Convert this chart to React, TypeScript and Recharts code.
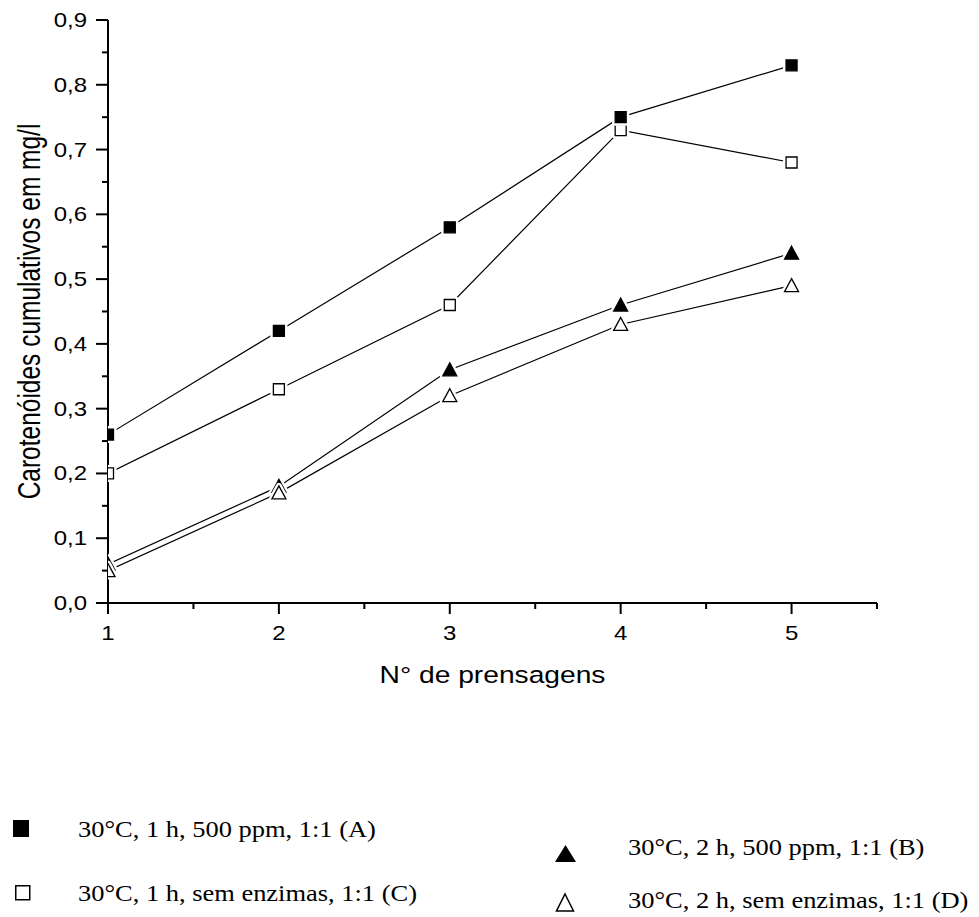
import React from "react";
import { Line, LineChart, XAxis, YAxis } from "recharts";

// N° de prensagens (x) and cumulative carotenoids in mg/l for each condition
const passes = [1, 2, 3, 4, 5];
const seriesA = [0.26, 0.42, 0.58, 0.75, 0.83]; // 30°C, 1 h, 500 ppm
const seriesB = [0.06, 0.18, 0.36, 0.46, 0.54]; // 30°C, 2 h, 500 ppm
const seriesC = [0.2, 0.33, 0.46, 0.73, 0.68]; // 30°C, 1 h, sem enzimas
const seriesD = [0.05, 0.17, 0.32, 0.43, 0.49]; // 30°C, 2 h, sem enzimas

const xTicks = [1, 1.5, 2, 2.5, 3, 3.5, 4, 4.5, 5, 5.5];
const yTicks = [0, 0.05, 0.1, 0.15, 0.2, 0.25, 0.3, 0.35, 0.4, 0.45, 0.5, 0.55, 0.6, 0.65, 0.7, 0.75, 0.8, 0.85, 0.9];

const legendA = "30°C, 1 h, 500 ppm, 1:1 (A)";
const legendB = "30°C, 2 h, 500 ppm, 1:1 (B)";
const legendC = "30°C, 1 h, sem enzimas, 1:1 (C)";
const legendD = "30°C, 2 h, sem enzimas, 1:1 (D)";

const chartData = passes.map((x, i) => ({
  x,
  a: seriesA[i],
  b: seriesB[i],
  c: seriesC[i],
  d: seriesD[i],
}));

const SANS = "'Liberation Sans', Arial, sans-serif";
const SERIF = "'Liberation Serif', 'Times New Roman', serif";

const isMajor = (v: number, step: number) => Math.abs(v / step - Math.round(v / step)) < 1e-6;

const XTick = (props: any) => {
  const { x, y, payload } = props;
  const major = isMajor(payload.value, 1);
  return (
    <g>
      <line x1={x} y1={y} x2={x} y2={y + (major ? 11 : 6)} stroke="#000" strokeWidth={2} />
      {major && (
        <text
          transform={`translate(${x},${y + 37}) scale(1.2,1)`}
          textAnchor="middle"
          fontFamily={SANS}
          fontSize={20}
          fill="#000"
        >
          {payload.value}
        </text>
      )}
    </g>
  );
};

const YTick = (props: any) => {
  const { x, y, payload } = props;
  const major = isMajor(payload.value, 0.1);
  return (
    <g>
      <line x1={x - (major ? 12 : 6)} y1={y} x2={x} y2={y} stroke="#000" strokeWidth={2} />
      {major && (
        <text
          transform={`translate(${x - 21},${y + 7}) scale(1.2,1)`}
          textAnchor="end"
          fontFamily={SANS}
          fontSize={20}
          fill="#000"
        >
          {payload.value.toFixed(1).replace(".", ",")}
        </text>
      )}
    </g>
  );
};

// Origin style markers: a white halo opens a small gap in the line around each point
const makeDot = (kind: "square" | "triangle", filled: boolean) => (props: any) => {
  const { cx, cy, index } = props;
  if (cx == null || cy == null) return <g key={index} />;
  const path =
    kind === "square"
      ? `M${cx - 5.5},${cy - 5.5}h11v11h-11z`
      : `M${cx},${cy - 7}L${cx + 7},${cy + 6}L${cx - 7},${cy + 6}z`;
  return (
    <g key={index}>
      <path d={path} fill="#fff" stroke="#fff" strokeWidth={6} strokeLinejoin="round" />
      <path d={path} fill={filled ? "#000" : "#fff"} stroke="#000" strokeWidth={1.3} />
    </g>
  );
};

const axisTitle = (text: string, rotate: boolean) => (props: any) => {
  const { viewBox } = props;
  if (rotate) {
    const cy = viewBox.y + viewBox.height / 2;
    return (
      <text
        transform={`translate(40,${cy}) scale(1.3,1) rotate(-90)`}
        textAnchor="middle"
        fontFamily={SANS}
        fontSize={24.5}
        fill="#000"
      >
        {text}
      </text>
    );
  }
  const cx = viewBox.x + viewBox.width / 2;
  return (
    <text
      transform={`translate(${cx},${viewBox.y + 80}) scale(1.2,1)`}
      textAnchor="middle"
      fontFamily={SANS}
      fontSize={23.5}
      fill="#000"
    >
      {text}
    </text>
  );
};

const LegendItem = ({
  symbol,
  label,
  sx,
  sy,
  tx,
  ty,
}: {
  symbol: React.ReactNode;
  label: string;
  sx: number;
  sy: number;
  tx: number;
  ty: number;
}) => (
  <>
    <svg style={{ position: "absolute", left: sx, top: sy, overflow: "visible" }} width={24} height={22}>
      {symbol}
    </svg>
    <div
      style={{
        position: "absolute",
        left: tx,
        top: ty - 13,
        lineHeight: "26px",
        fontFamily: SERIF,
        fontSize: 23,
        whiteSpace: "nowrap",
        transform: "scaleX(1.15)",
        transformOrigin: "left center",
        color: "#000",
      }}
    >
      {label}
    </div>
  </>
);

export default function App() {
  return (
    <div style={{ position: "absolute", left: 0, top: 0, width: 979, height: 917, background: "#fff" }}>
      <LineChart width={979} height={700} data={chartData} margin={{ top: 20, right: 102, bottom: 0, left: 0 }}>
        <XAxis
          dataKey="x"
          type="number"
          domain={[1, 5.5]}
          ticks={xTicks}
          interval={0}
          allowDataOverflow
          height={97}
          tickSize={0}
          tickMargin={0}
          tickLine={false}
          axisLine={{ stroke: "#000", strokeWidth: 2 }}
          tick={<XTick />}
          label={{ content: axisTitle("N° de prensagens", false) }}
        />
        <YAxis
          type="number"
          domain={[0, 0.9]}
          ticks={yTicks}
          interval={0}
          width={108}
          tickSize={0}
          tickMargin={0}
          tickLine={false}
          axisLine={{ stroke: "#000", strokeWidth: 2 }}
          tick={<YTick />}
          label={{ content: axisTitle("Carotenóides cumulativos em mg/l", true) }}
        />
        <Line type="linear" dataKey="c" stroke="#000" strokeWidth={1.2} dot={makeDot("square", false)} isAnimationActive={false} />
        <Line type="linear" dataKey="a" stroke="#000" strokeWidth={1.2} dot={makeDot("square", true)} isAnimationActive={false} />
        <Line type="linear" dataKey="b" stroke="#000" strokeWidth={1.2} dot={makeDot("triangle", true)} isAnimationActive={false} />
        <Line type="linear" dataKey="d" stroke="#000" strokeWidth={1.2} dot={makeDot("triangle", false)} isAnimationActive={false} />
      </LineChart>

      <LegendItem
        symbol={<rect x={0} y={0} width={16} height={17} fill="#000" />}
        label={legendA}
        sx={13}
        sy={820}
        tx={78}
        ty={830}
      />
      <LegendItem
        symbol={<rect x={0.75} y={0.75} width={14} height={14} fill="#fff" stroke="#000" strokeWidth={1.5} />}
        label={legendC}
        sx={15}
        sy={885}
        tx={78}
        ty={894}
      />
      <LegendItem
        symbol={<path d="M10.5,0L21,17L0,17z" fill="#000" />}
        label={legendB}
        sx={555}
        sy={845}
        tx={628}
        ty={848}
      />
      <LegendItem
        symbol={<path d="M9,1L17.5,18L0.5,18z" fill="#fff" stroke="#000" strokeWidth={1.5} />}
        label={legendD}
        sx={556}
        sy={893}
        tx={628}
        ty={901}
      />
    </div>
  );
}
